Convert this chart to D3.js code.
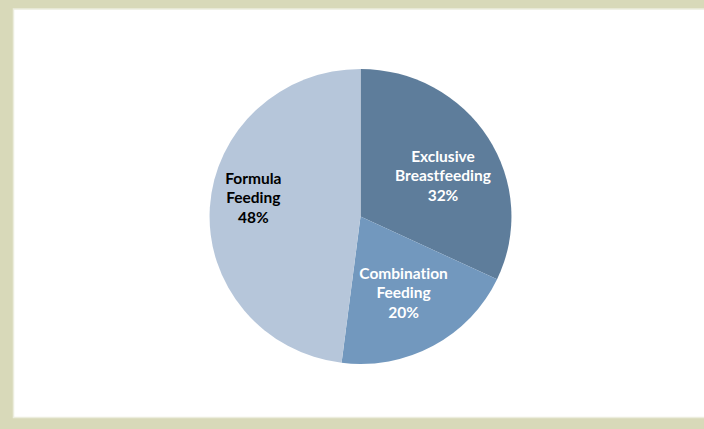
<!DOCTYPE html>
<html>
<head>
<meta charset="utf-8">
<script src="https://cdn.jsdelivr.net/npm/d3@7"></script>
<style>
  html, body { margin: 0; padding: 0; background: #d8d9b9; }
  svg { display: block; }
  text.label { font-variant-ligatures: none; font-feature-settings: "liga" 0; }
</style>
</head>
<body>
<svg id="chart" width="704" height="429"></svg>
<script>
// feeding method shares, clockwise from 12 o'clock
const categories = ['Exclusive Breastfeeding', 'Combination Feeding', 'Formula Feeding']
const labelLines = [['Exclusive', 'Breastfeeding'], ['Combination', 'Feeding'], ['Formula', 'Feeding']]
const shares = [32, 20, 48]

const sliceColors = ['#5e7d9b', '#7298be', '#b6c6da']
const textColors = ['#ffffff', '#ffffff', '#000000']
// excel's "best fit" puts two labels a bit off the centroid
const labelNudge = [[7, 7], [0, -2], [-18, -13]]

const width = 704
const height = 429
const cx = 360.5
const cy = 216.5
const r = 149

const svg = d3.select('#chart')

// chart area + border
svg.append('rect')
    .attr('x', 0).attr('y', 0)
    .attr('width', width).attr('height', height)
    .attr('fill', '#d8d9b9')
svg.append('rect')
    .attr('x', 13.5).attr('y', 9)
    .attr('width', width).attr('height', 408.5)
    .attr('fill', '#ffffff')
    .attr('stroke', '#ecedde')
    .attr('stroke-width', 1.5)

let data = categories.map(function (c, i) {
  return { name: c, value: shares[i], lines: labelLines[i], i: i }
})

let pie = d3.pie()
    .sort(null)
    .value(function (d) { return d.value })

let arc = d3.arc().innerRadius(0).outerRadius(r)
let labelArc = d3.arc().innerRadius(r * 0.6).outerRadius(r * 0.6)

// plot is a touch wider than tall in the original
let g = svg.append('g')
    .attr('transform', 'translate(' + cx + ',' + cy + ') scale(1.013,0.99)')

let arcs = pie(data)

g.selectAll('path.slice')
    .data(arcs)
  .enter()
    .append('path')
      .attr('class', 'slice')
      .attr('d', arc)
      .attr('fill', function (d) { return sliceColors[d.data.i] })

let labels = svg.selectAll('text.label')
    .data(arcs)
  .enter()
    .append('text')
      .attr('class', 'label')
      .attr('text-anchor', 'middle')
      .attr('font-family', 'Lato, "Open Sans", sans-serif')
      .attr('font-weight', 'bold')
      .attr('font-size', '15.5px')
      .attr('fill', function (d) { return textColors[d.data.i] })
      .attr('transform', function (d) {
        let c = labelArc.centroid(d)
        let n = labelNudge[d.data.i]
        return 'translate(' + (cx + c[0] + n[0]) + ',' + (cy + c[1] + n[1]) + ')'
      })

labels.each(function (d) {
  let t = d3.select(this)
  let lines = d.data.lines.concat([d.data.value + '%'])
  let lh = 19.5
  let top = -lh * (lines.length - 1) / 2
  lines.forEach(function (line, k) {
    t.append('tspan')
        .attr('x', 0)
        .attr('y', top + k * lh)
        .attr('dy', '0.35em')
        .text(line)
  })
})
</script>
</body>
</html>
